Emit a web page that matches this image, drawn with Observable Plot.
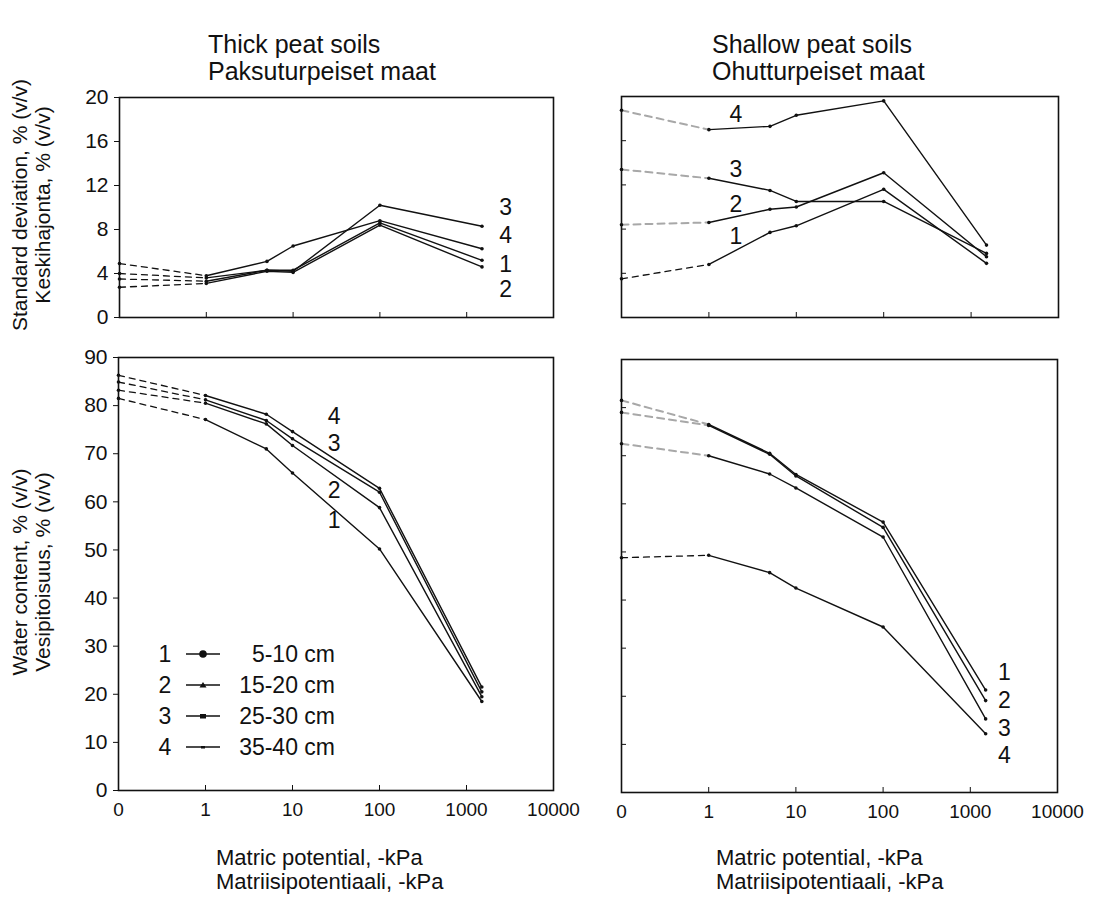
<!DOCTYPE html>
<html>
<head>
<meta charset="utf-8">
<script src="https://cdn.jsdelivr.net/npm/d3@7"></script>
<script src="https://cdn.jsdelivr.net/npm/@observablehq/plot@0.6"></script>
<style>
  body { margin: 0; background: #fff; }
  #root { position: relative; width: 1101px; height: 897px; overflow: hidden; font-family: 'Liberation Sans', Arial, Helvetica, sans-serif; color: #111; }
  .abs { position: absolute; white-space: nowrap; }
  .title { font-size: 25px; line-height: 27px; }
  .xt { font-size: 22px; line-height: 24px; }
  .yt { font-size: 21px; line-height: 23px; text-align: center; transform: translate(-50%, -50%) rotate(-90deg); }
</style>
</head>
<body>
<div id="root"></div>
<script>
// ---- data ----
const potentials = [0, 1, 5, 10, 100, 1500];          // matric potential, -kPa (0 = dashed start)
const xTickValues = [0, 1, 10, 100, 1000, 10000];
const depths = ["5-10 cm", "15-20 cm", "25-30 cm", "35-40 cm"];
const seriesIds = ["1", "2", "3", "4"];

// Standard deviation, thick peat soils
const sdThick1 = [3.5, 3.3, 4.3, 4.3, 8.6, 5.2];
const sdThick2 = [2.75, 3.1, 4.2, 4.1, 8.4, 4.6];
const sdThick3 = [4.0, 3.6, 4.3, 4.2, 10.2, 8.3];
const sdThick4 = [4.9, 3.8, 5.1, 6.5, 8.8, 6.25];

// Water content, thick peat soils
const wcThick1 = [81.5, 77.1, 71.0, 66.0, 50.2, 18.5];
const wcThick2 = [83.2, 80.5, 76.2, 71.7, 58.8, 19.5];
const wcThick3 = [84.9, 81.2, 76.9, 73.1, 62.0, 20.5];
const wcThick4 = [86.3, 82.1, 78.2, 74.6, 62.8, 21.5];

// Standard deviation, shallow peat soils
const sdShallow1 = [3.5, 4.8, 7.7, 8.3, 11.6, 4.9];
const sdShallow2 = [8.4, 8.6, 9.8, 10.0, 13.1, 5.5];
const sdShallow3 = [13.4, 12.6, 11.5, 10.5, 10.5, 5.8];
const sdShallow4 = [18.75, 17.0, 17.3, 18.3, 19.6, 6.55];

// Water content, shallow peat soils
const wcShallow1 = [81.5, 76.5, 70.5, 66.1, 56.2, 21.3];
const wcShallow2 = [79.0, 76.3, 70.3, 65.8, 55.1, 19.1];
const wcShallow3 = [72.5, 70.0, 66.2, 63.3, 53.1, 15.3];
const wcShallow4 = [48.8, 49.3, 45.7, 42.5, 34.4, 12.2];

const sdTicks = [0, 4, 8, 12, 16, 20];
const wcTicks = [0, 10, 20, 30, 40, 50, 60, 70, 80, 90];

// series number annotations (data units: x = decade position, y = value)
const labelsSdThick = [{t: "3", x: 4.45, y: 10.0}, {t: "4", x: 4.45, y: 7.4}, {t: "1", x: 4.45, y: 4.8}, {t: "2", x: 4.45, y: 2.55}];
const labelsWcThick = [{t: "4", x: 2.48, y: 77.7}, {t: "3", x: 2.48, y: 72.1}, {t: "2", x: 2.48, y: 62.4}, {t: "1", x: 2.48, y: 56.1}];
const labelsSdShallow = [{t: "4", x: 1.31, y: 18.4}, {t: "3", x: 1.31, y: 13.4}, {t: "2", x: 1.31, y: 10.2}, {t: "1", x: 1.31, y: 7.3}];
const labelsWcShallow = [{t: "1", x: 4.39, y: 24.9}, {t: "2", x: 4.39, y: 19.1}, {t: "3", x: 4.39, y: 13.3}, {t: "4", x: 4.39, y: 7.7}];

// ---- drawing ----
const FONT = "'Liberation Sans', Arial, Helvetica, sans-serif";
const INK = "#111";
const root = document.getElementById("root");
const pos = p => p === 0 ? 0 : Math.log10(p) + 1;
const ML = 70, MR = 30, MT = 10, MB = 40;

function panel({series, yDomain, yTicks, yLabels, xLabels, labels, frame, greyDash}) {
  const [fl, ft, fr, fb] = frame;
  const fw = fr - fl, fh = fb - ft;
  const solid = [], dashed = [], pts = [];
  series.forEach((vals, i) => {
    vals.forEach((v, j) => {
      const r = {s: i + 1, x: pos(potentials[j]), y: v};
      pts.push(r);
      if (j >= 1) solid.push(r);
      if (j <= 1) dashed.push(r);
    });
  });
  const xt = d3.range(xTickValues.length);
  const chart = Plot.plot({
    width: ML + fw + MR,
    height: MT + fh + MB,
    marginLeft: ML, marginRight: MR, marginTop: MT, marginBottom: MB,
    style: {fontFamily: FONT, fontSize: "21px", color: INK, background: "transparent", overflow: "visible"},
    x: {domain: [0, 5], label: null},
    y: {domain: yDomain, label: null},
    marks: [
      Plot.axisX({ticks: xt, tickSize: 5, dy: -5, tickFormat: () => ""}),
      xLabels ? Plot.axisX({ticks: xt, tickSize: 0, tickPadding: 12, fontSize: 19, tickFormat: i => String(xTickValues[i])}) : null,
      yLabels
        ? Plot.axisY({ticks: yTicks, tickSize: 5, tickPadding: 6, fontSize: 21, tickFormat: d => String(d)})
        : Plot.axisY({ticks: yTicks, tickSize: 5, dx: 5, tickFormat: () => ""}),
      Plot.line(dashed.filter(d => !greyDash.includes(d.s)), {x: "x", y: "y", z: "s", stroke: INK, strokeWidth: 1.3, strokeDasharray: "6,5"}),
      Plot.line(dashed.filter(d => greyDash.includes(d.s)), {x: "x", y: "y", z: "s", stroke: "#a8a8a8", strokeWidth: 2, strokeDasharray: "7,5"}),
      Plot.line(solid, {x: "x", y: "y", z: "s", stroke: INK, strokeWidth: 1.4}),
      Plot.dot(pts, {x: "x", y: "y", r: 1.8, fill: INK}),
      Plot.text(labels, {x: "x", y: "y", text: "t", fontSize: 23, fill: INK}),
      Plot.frame({stroke: INK, strokeWidth: 1.6})
    ]
  });
  const wrap = document.createElement("div");
  wrap.className = "abs";
  wrap.style.left = (fl - ML) + "px";
  wrap.style.top = (ft - MT) + "px";
  wrap.appendChild(chart);
  root.appendChild(wrap);
}

panel({series: [sdThick1, sdThick2, sdThick3, sdThick4], yDomain: [0, 20], yTicks: sdTicks, yLabels: true, xLabels: false,
       labels: labelsSdThick, frame: [119, 97, 553, 317], greyDash: []});
panel({series: [wcThick1, wcThick2, wcThick3, wcThick4], yDomain: [0, 90], yTicks: wcTicks, yLabels: true, xLabels: true,
       labels: labelsWcThick, frame: [118, 357, 553, 790], greyDash: []});
panel({series: [sdShallow1, sdShallow2, sdShallow3, sdShallow4], yDomain: [0, 20], yTicks: sdTicks, yLabels: false, xLabels: false,
       labels: labelsSdShallow, frame: [621, 96, 1058, 317], greyDash: [2, 3, 4]});
panel({series: [wcShallow1, wcShallow2, wcShallow3, wcShallow4], yDomain: [0, 90], yTicks: wcTicks, yLabels: false, xLabels: true,
       labels: labelsWcShallow, frame: [621, 359, 1057, 792], greyDash: [1, 2, 3]});

// ---- texts ----
function addText(cls, html, left, top) {
  const d = document.createElement("div");
  d.className = "abs " + cls;
  d.innerHTML = html;
  d.style.left = left + "px";
  d.style.top = top + "px";
  root.appendChild(d);
  return d;
}
addText("title", "Thick peat soils<br>Paksuturpeiset maat", 208, 31);
addText("title", "Shallow peat soils<br>Ohutturpeiset maat", 712, 31);
addText("xt", "Matric potential, -kPa<br>Matriisipotentiaali, -kPa", 216, 846);
addText("xt", "Matric potential, -kPa<br>Matriisipotentiaali, -kPa", 716, 846);
addText("yt", "Standard deviation, % (v/v)<br>Keskihajonta, % (v/v)", 31, 205);
addText("yt", "Water content, % (v/v)<br>Vesipitoisuus, % (v/v)", 31, 572);

// ---- legend ----
const legendSymbols = ["circle", "triangle", "square", "dash"];
depths.forEach((dep, i) => {
  const cy = 654 + i * 31;
  const row = document.createElement("div");
  row.className = "abs";
  row.style.left = "150px";
  row.style.top = (cy - 12) + "px";
  row.style.width = "190px";
  row.style.height = "24px";
  const sym = legendSymbols[i];
  let marker = "";
  if (sym === "circle") marker = `<circle cx="53" cy="12" r="3.8" fill="${INK}"/>`;
  if (sym === "triangle") marker = `<path d="M49.5,14.5 L53,9 L56.5,14.5 Z" fill="${INK}"/>`;
  if (sym === "square") marker = `<rect x="50" y="10" width="6" height="4.5" fill="${INK}"/>`;
  if (sym === "dash") marker = `<rect x="51" y="11" width="4" height="2.5" fill="${INK}"/>`;
  row.innerHTML = `<svg width="190" height="24" style="position:absolute;left:0;top:0;overflow:visible">
      <text x="15" y="20" text-anchor="middle" font-family="${FONT}" font-size="23" fill="${INK}">${seriesIds[i]}</text>
      <line x1="36" y1="12" x2="70" y2="12" stroke="${INK}" stroke-width="1.4"/>
      ${marker}
      <text x="185" y="20" text-anchor="end" font-family="${FONT}" font-size="23" fill="${INK}">${dep}</text>
    </svg>`;
  root.appendChild(row);
});
</script>
</body>
</html>
